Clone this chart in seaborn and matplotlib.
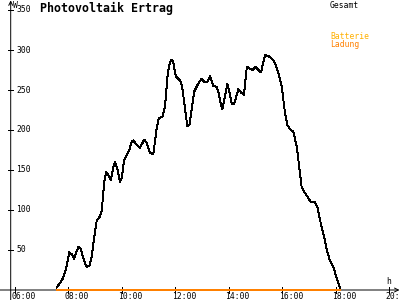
import matplotlib
matplotlib.use("Agg")
import matplotlib.pyplot as plt
import seaborn as sns
import pandas as pd

# ---- data -------------------------------------------------------------
pv_hours = [7.56, 7.77, 7.90, 8.03, 8.12, 8.21, 8.37, 8.47, 8.58, 8.68,
            8.78, 8.87, 8.97, 9.06, 9.18, 9.25, 9.34, 9.41, 9.49, 9.59,
            9.68, 9.74, 9.83, 9.93, 10.00, 10.08, 10.18, 10.28, 10.37, 10.43,
            10.56, 10.68, 10.84, 10.93, 11.05, 11.18, 11.31, 11.39, 11.53, 11.62,
            11.72, 11.80, 11.87, 11.93, 12.02, 12.18, 12.26, 12.34, 12.45, 12.53,
            12.62, 12.71, 12.80, 12.86, 12.99, 13.09, 13.19, 13.30, 13.42, 13.55,
            13.64, 13.71, 13.76, 13.86, 13.95, 14.04, 14.11, 14.21, 14.36, 14.49,
            14.57, 14.68, 14.77, 14.90, 15.01, 15.11, 15.21, 15.36, 15.51, 15.67,
            15.73, 15.86, 15.99, 16.05, 16.11, 16.20, 16.30, 16.42, 16.55, 16.64,
            16.73, 16.86, 16.98, 17.07, 17.23, 17.32, 17.45, 17.57, 17.67, 17.79,
            17.92, 18.04, 18.17]
pv_watts = [3, 13, 25, 47, 45, 39, 54, 51, 37, 29,
            30, 42, 67, 87, 92, 100, 135, 147, 144, 137,
            154, 160, 152, 135, 140, 162, 169, 175, 186, 187,
            181, 178, 188, 184, 171, 170, 204, 215, 217, 231,
            271, 284, 288, 284, 267, 262, 254, 233, 205, 206,
            227, 248, 254, 258, 264, 260, 260, 267, 255, 254,
            244, 231, 226, 242, 258, 246, 233, 233, 251, 246,
            244, 279, 277, 275, 279, 275, 272, 294, 292, 287,
            284, 271, 254, 237, 221, 206, 201, 198, 179, 154,
            129, 121, 115, 110, 110, 104, 83, 67, 50, 37,
            29, 15, 2]
charge_hours = [7.56, 18.17]
charge_watts = [0, 0]

y_ticks = [50, 100, 150, 200, 250, 300, 350]
x_ticks = [6, 8, 10, 12, 14, 16, 18, 20]
x_tick_labels = ["06:00", "08:00", "10:00", "12:00", "14:00", "16:00", "18:00", "20:00"]
title = "Photovoltaik Ertrag"
legend_labels = ["Gesamt", "Batterie", "Ladung"]
legend_colors = ["#000000", "#FFB000", "#FF8000"]

# ---- figure -----------------------------------------------------------
sns.set_style("white")
plt.rcParams["font.family"] = ["DejaVu Sans Mono"]

fig = plt.figure(figsize=(4, 3), dpi=100)
fig.patch.set_facecolor("white")
ax = fig.add_axes([0, 0, 1, 1])
ax.set_facecolor("white")

xmin, xmax = 5.4384, 20.414
ymin, ymax = -12.5, 362.5
ax.set_xlim(xmin, xmax)
ax.set_ylim(ymin, ymax)
yaxis_x = 5.839

df_pv = pd.DataFrame({"h": pv_hours, "W": pv_watts})
df_ch = pd.DataFrame({"h": charge_hours, "W": charge_watts})

sns.lineplot(data=df_pv, x="h", y="W", ax=ax, color="black", linewidth=0.7,
             antialiased=False, zorder=3)
sns.lineplot(data=df_ch, x="h", y="W", ax=ax, color="#FF8000", linewidth=1.1,
             antialiased=False, zorder=4)
ax.set_xlabel("")
ax.set_ylabel("")

# axes lines with arrows
for s in ax.spines.values():
    s.set_visible(False)
ax.annotate("", xy=(xmax - 0.02, 0), xytext=(xmin, 0),
            arrowprops=dict(arrowstyle="->", lw=0.7, color="black",
                            shrinkA=0, shrinkB=0, mutation_scale=7), zorder=2)
ax.annotate("", xy=(yaxis_x, ymax - 0.5), xytext=(yaxis_x, ymin),
            arrowprops=dict(arrowstyle="->", lw=0.7, color="black",
                            shrinkA=0, shrinkB=0, mutation_scale=7), zorder=2)

# ticks
ax.set_xticks([])
ax.set_yticks([])
for v in y_ticks:
    ax.plot([yaxis_x - 0.1, yaxis_x + 0.1], [v, v], color="black", lw=0.7,
            antialiased=False, solid_capstyle="butt")
    ax.annotate(str(v), xy=(yaxis_x, v), xytext=(5.5, 0), textcoords="offset pixels",
                ha="left", va="center", fontsize=5.8, color="black")
for v, lab in zip(x_ticks, x_tick_labels):
    ax.plot([v, v], [-4, 4], color="black", lw=0.7, antialiased=False,
            solid_capstyle="butt")
    ax.annotate(lab, xy=(v, 0), xytext=(-3.5, -2), textcoords="offset pixels",
                ha="left", va="top", fontsize=5.8, color="black")

ax.annotate("W", xy=(yaxis_x, ymax), xytext=(2, -1), textcoords="offset pixels",
            ha="left", va="top", fontsize=5.8, color="black")
ax.annotate("h", xy=(20, 0), xytext=(-3, 4), textcoords="offset pixels",
            ha="left", va="bottom", fontsize=5.8, color="black")

# title and legend text
fig.text(40 / 400, 1 - 2 / 300, title, ha="left", va="top", fontsize=8.4,
         fontweight="bold", color="black")
fig.text(330 / 400, 1 - 1 / 300, legend_labels[0], ha="left", va="top",
         fontsize=5.8, color=legend_colors[0])
fig.text(330 / 400, 1 - 32 / 300, legend_labels[1], ha="left", va="top",
         fontsize=5.8, color=legend_colors[1])
fig.text(330 / 400, 1 - 40 / 300, legend_labels[2], ha="left", va="top",
         fontsize=5.8, color=legend_colors[2])

fig.savefig("out.png", dpi=100)
